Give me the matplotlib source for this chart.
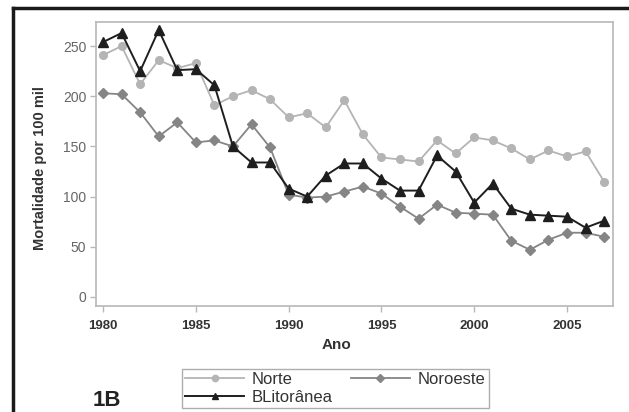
import matplotlib.pyplot as plt
import matplotlib.lines as mlines

plt.rcParams['font.family'] = ['Liberation Sans', 'DejaVu Sans']

anos = list(range(1980, 2008))
norte = [241, 250, 212, 236, 228, 233, 191, 200, 206, 197, 179, 183, 169, 196,
         162, 139, 137, 135, 156, 143, 159, 156, 148, 137, 146, 140, 145, 115]
noroeste = [203, 202, 184, 160, 174, 154, 156, 150, 172, 149, 102, 99, 100, 105,
            110, 103, 90, 78, 92, 84, 83, 82, 56, 47, 57, 64, 64, 60]
blitoranea = [254, 263, 225, 266, 226, 227, 211, 150, 134, 134, 108, 100, 121, 133,
              133, 118, 106, 106, 141, 125, 94, 113, 88, 82, 81, 80, 69, 76]

fig = plt.figure(figsize=(6.29, 4.12), dpi=100)
ax = fig.add_axes([0.1526, 0.2573, 0.822, 0.6893])

c_norte = '#b4b4b4'
c_noro = '#858585'
c_bl = '#1e1e1e'

l1, = ax.plot(anos, norte, '-o', color=c_norte, markersize=5.5, lw=1.3, label='Norte')
l2, = ax.plot(anos, noroeste, '-D', color=c_noro, markersize=5.5, lw=1.3, label='Noroeste')
l3, = ax.plot(anos, blitoranea, '-^', color=c_bl, markersize=6.5, lw=1.4, label='BLitorânea')

ax.set_xlim(1979.62, 2007.48)
ax.set_ylim(-9, 274)
ax.set_xticks([1980, 1985, 1990, 1995, 2000, 2005])
ax.set_yticks([0, 50, 100, 150, 200, 250])

for s in ax.spines.values():
    s.set_color('#b8b8b8')
    s.set_linewidth(1.2)
ax.tick_params(axis='both', colors='#b8b8b8', length=4, width=1)
ax.tick_params(axis='x', labelcolor='#333333', labelsize=9.5, pad=6)
ax.tick_params(axis='y', labelcolor='#666666', labelsize=10, pad=3)
for t in ax.get_xticklabels():
    t.set_fontweight('bold')

fig.text(40 / 629, 1 - 168 / 412, 'Mortalidade por 100 mil', rotation=90,
         ha='center', va='center', fontsize=10.5, fontweight='bold', color='#333333')
fig.text(337 / 629, 1 - 345 / 412, 'Ano', ha='center', va='center',
         fontsize=11, fontweight='bold', color='#333333')
fig.text(107 / 629, 1 - 400 / 412, '1B', ha='center', va='center',
         fontsize=16, fontweight='bold', color='#222222')

leg = fig.legend(handles=[l1, l3, l2], ncol=2, loc='lower left',
                 bbox_to_anchor=(182 / 629, 1 - 408 / 412, (489 - 182) / 629, (408 - 359) / 412),
                 mode='expand', fontsize=12, handlelength=3.5, frameon=True, fancybox=False,
                 borderpad=0.2, labelspacing=0.15, handletextpad=0.5, columnspacing=1.0,
                 borderaxespad=0)
leg.get_frame().set_edgecolor('#999999')
leg.get_frame().set_linewidth(1)
for h in leg.legend_handles:
    h.set_markersize(4.5)
for t in leg.get_texts():
    t.set_color('#333333')

# frame lines at top and left
fig.add_artist(mlines.Line2D([13 / 629, 1], [1 - 8 / 412, 1 - 8 / 412], color='#1a1a1a', lw=2.5))
fig.add_artist(mlines.Line2D([13 / 629, 13 / 629], [0, 1 - 8 / 412], color='#1a1a1a', lw=2.5))

fig.savefig('out.png', dpi=100)
